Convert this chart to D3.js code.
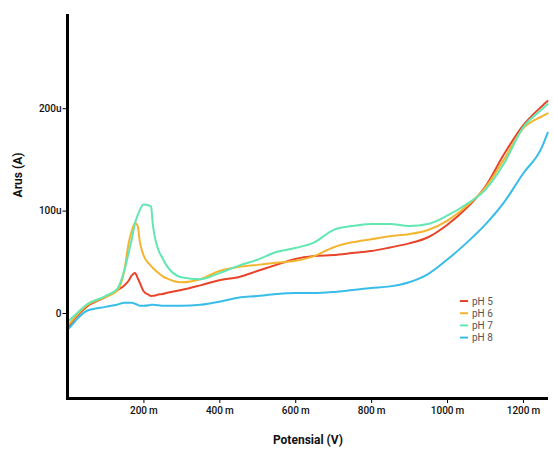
<!DOCTYPE html>
<html><head><meta charset="utf-8">
<script src="https://cdn.jsdelivr.net/npm/d3@7"></script>
<style>body{margin:0;background:#fff}svg{display:block}</style>
</head><body>
<script>
// Potential (mV)
const potential = [5,20,50,100,130,150,160,170,178,185,190,200,215,220,225,240,250,260,300,350,400,450,500,550,600,650,700,750,800,850,900,950,1000,1050,1100,1150,1200,1250,1265];
// Current (µA) per series, aligned to potential
const pH5 = [-12.7,-5,6,15.6,22,27,31,37,39,34,30,21.5,17.5,16.6,16.8,18,18.5,19.5,22.4,27,32,35,41,47,52.7,55.6,56.6,58.5,60.5,64,68,74,86,102,123,155,183,202,207];
const pH6 = [-10.7,-4,7,15.6,21.5,42,66,81,88,85,71,56.6,48,46,44,39,36,34,30,33,41,45,47,49,51,55.6,64,69,72,75,77,81,90,104,122,150,180,192,195];
const pH7 = [-7,-2,8,16.6,23,42,57,73,88,95.6,100,106,105,104,86,61,54,47,35,33,39,46,52,59.5,63.4,69,81,85,87,87,85,87,95,106,120,146,181,199,204];
const pH8 = [-14.6,-8,2,6,8,10,10,10,9,8,7,7,7.5,8,8,7.5,7,7,7,8,11,15,16.6,18.5,19.5,19.5,20.5,22.4,24.4,26,30,38,52,68,86,108,136,162,176];
const seriesNames = ["pH 5","pH 6","pH 7","pH 8"];
const seriesColors = ["#e8442a","#f3b530","#62e6b2","#38bde9"];
const xTicks = [200,400,600,800,1000,1200];
const yTicks = [0,100,200];

const W=553,H=451;
const svg=d3.select("body").append("svg").attr("width",W).attr("height",H);
const x=d3.scaleLinear().domain([0,1266]).range([67.5,548]);
const y=d3.scaleLinear().domain([-83,292]).range([398,14]);
const font="Roboto, 'Liberation Sans', sans-serif";

const data=[pH5,pH6,pH7,pH8];
const line=d3.line().x((d,i)=>x(potential[i])).y(d=>y(d)).curve(d3.curveMonotoneX);
svg.append("g").selectAll("path").data(data).join("path")
  .attr("d",line).attr("fill","none")
  .attr("stroke",(d,i)=>seriesColors[i]).attr("stroke-width",2)
  .attr("stroke-linejoin","round").attr("stroke-linecap","round");

// axes
const xAxis=svg.append("g").attr("transform","translate(0,398)")
  .call(d3.axisBottom(x).tickValues(xTicks).tickSize(5).tickSizeOuter(0).tickPadding(4).tickFormat(d=>d+"\u2009m"));
const yAxis=svg.append("g").attr("transform","translate(67.5,0)")
  .call(d3.axisLeft(y).tickValues(yTicks).tickSize(5).tickSizeOuter(0).tickPadding(1).tickFormat(d=>d===0?"0":d+"u"));
[xAxis,yAxis].forEach(a=>{
  a.select(".domain").attr("stroke","#000").attr("stroke-width",3);
  a.selectAll(".tick line").attr("stroke","#000").attr("stroke-width",1);
  a.selectAll(".tick text").attr("fill","#111").style("font-family",font).style("font-size","10px").style("font-weight","500");
});
xAxis.select(".domain").attr("d","M66,0.5H548");
yAxis.select(".domain").attr("d","M0,14V399.5");

svg.append("text").attr("x",308).attr("y",444).attr("text-anchor","middle")
  .style("font-family",font).style("font-size","12px").style("font-weight","bold").attr("fill","#111").text("Potensial (V)");
svg.append("text").attr("transform","translate(22,175) rotate(-90)").attr("text-anchor","middle")
  .style("font-family",font).style("font-size","12px").style("font-weight","bold").attr("fill","#111").text("Arus (A)");

// legend
const lg=svg.append("g").attr("transform","translate(460,301)");
seriesNames.forEach((n,i)=>{
  const g=lg.append("g").attr("transform",`translate(0,${i*12.2})`);
  g.append("line").attr("x1",0).attr("x2",8).attr("y1",0).attr("y2",0).attr("stroke",seriesColors[i]).attr("stroke-width",2);
  g.append("text").attr("x",12).attr("y",3.5).style("font-family",font).style("font-size","10px").attr("fill","#555").text(n);
});
</script>
</body></html>
